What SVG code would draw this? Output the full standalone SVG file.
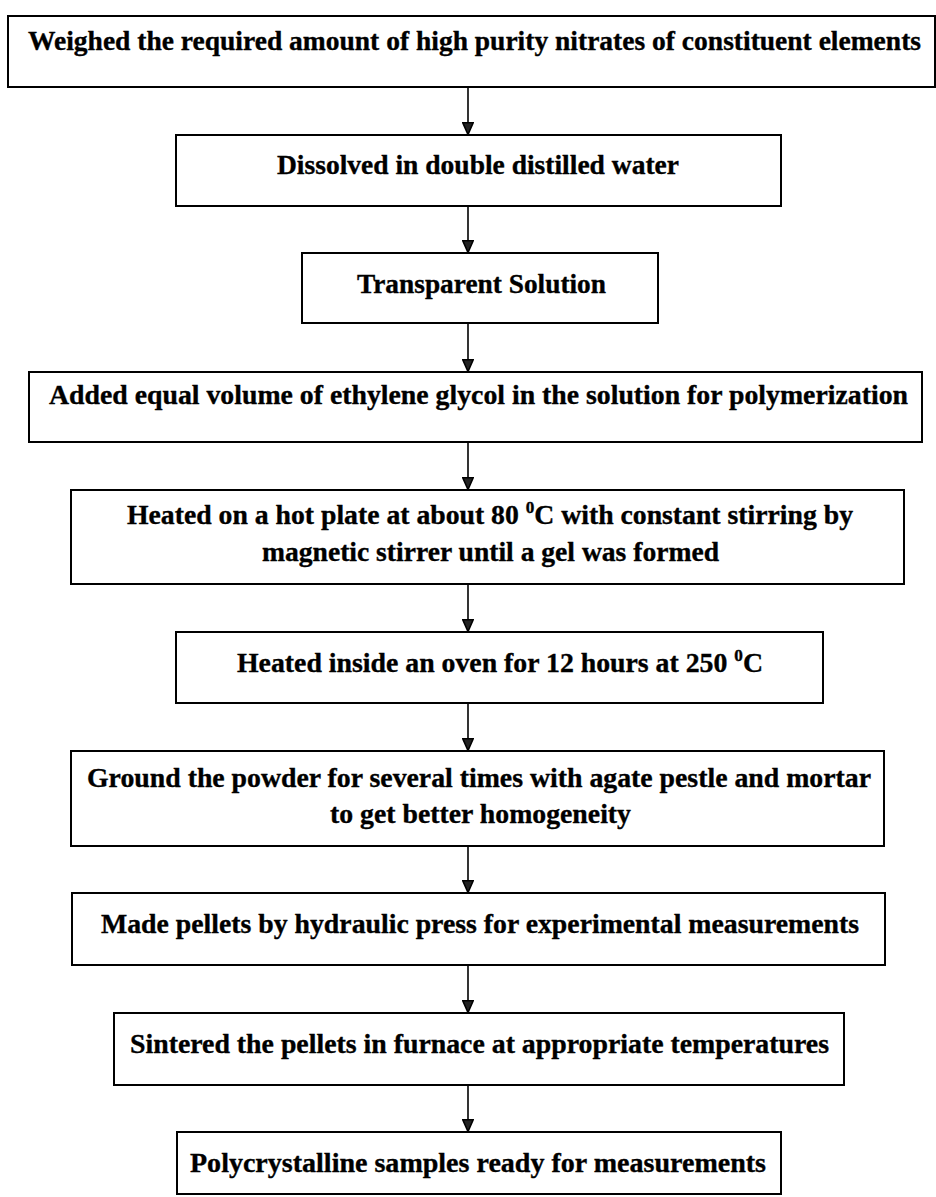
<svg xmlns="http://www.w3.org/2000/svg" width="936" height="1197" viewBox="0 0 936 1197">
<defs>
<style>
.box{fill:#fff;stroke:#000;stroke-width:2}
.t{font-family:"Liberation Serif","Times New Roman",serif;font-weight:bold;font-size:27.5px;fill:#000;stroke:#000;stroke-width:0.35}
.sup{font-size:17px}
.con{stroke:#000;stroke-width:1.6;fill:none}
</style>
<marker id="ah" markerUnits="userSpaceOnUse" viewBox="0 0 13 12" refX="13" refY="6" markerWidth="13" markerHeight="12" orient="auto">
<polygon points="0.8,0.8 12.5,6 0.8,11.2" fill="#222" stroke="#000" stroke-width="1.6"/>
</marker>
</defs>
<rect width="936" height="1197" fill="#fff"/>
<g id="connectors">
<line class="con" x1="468" y1="87" x2="468" y2="135" marker-end="url(#ah)"/>
<line class="con" x1="468" y1="206" x2="468" y2="253" marker-end="url(#ah)"/>
<line class="con" x1="468" y1="323" x2="468" y2="372" marker-end="url(#ah)"/>
<line class="con" x1="468" y1="442" x2="468" y2="490" marker-end="url(#ah)"/>
<line class="con" x1="468" y1="584" x2="468" y2="632" marker-end="url(#ah)"/>
<line class="con" x1="468" y1="703" x2="468" y2="751" marker-end="url(#ah)"/>
<line class="con" x1="468" y1="846" x2="468" y2="893" marker-end="url(#ah)"/>
<line class="con" x1="468" y1="965" x2="468" y2="1013" marker-end="url(#ah)"/>
<line class="con" x1="468" y1="1085" x2="468" y2="1132" marker-end="url(#ah)"/>
</g>
<g id="n1">
<rect class="box" x="8" y="16" width="927" height="71"/>
<text class="t" x="28" y="50" textLength="893" lengthAdjust="spacingAndGlyphs">Weighed the required amount of high purity nitrates of constituent elements</text>
</g>
<g id="n2">
<rect class="box" x="176" y="135" width="605" height="71"/>
<text class="t" x="277" y="174" textLength="402" lengthAdjust="spacingAndGlyphs">Dissolved in double distilled water</text>
</g>
<g id="n3">
<rect class="box" x="302" y="253" width="356" height="70"/>
<text class="t" x="357" y="293" textLength="249" lengthAdjust="spacingAndGlyphs">Transparent Solution</text>
</g>
<g id="n4">
<rect class="box" x="29" y="372" width="893" height="70"/>
<text class="t" x="49" y="404" textLength="859" lengthAdjust="spacingAndGlyphs">Added equal volume of ethylene glycol in the solution for polymerization</text>
</g>
<g id="n5">
<rect class="box" x="71" y="490" width="833" height="94"/>
<text class="t" x="127" y="524" textLength="726" lengthAdjust="spacingAndGlyphs">Heated on a hot plate at about 80 <tspan class="sup" dy="-11">0</tspan><tspan dy="11">C with constant stirring by</tspan></text>
<text class="t" x="262" y="561" textLength="457" lengthAdjust="spacingAndGlyphs">magnetic stirrer until a gel was formed</text>
</g>
<g id="n6">
<rect class="box" x="176" y="632" width="647" height="71"/>
<text class="t" x="237" y="672" textLength="526" lengthAdjust="spacingAndGlyphs">Heated inside an oven for 12 hours at 250 <tspan class="sup" dy="-11">0</tspan><tspan dy="11">C</tspan></text>
</g>
<g id="n7">
<rect class="box" x="71" y="751" width="813" height="95"/>
<text class="t" x="87" y="787" textLength="784" lengthAdjust="spacingAndGlyphs">Ground the powder for several times with agate pestle and mortar</text>
<text class="t" x="330" y="823" textLength="301" lengthAdjust="spacingAndGlyphs">to get better homogeneity</text>
</g>
<g id="n8">
<rect class="box" x="72" y="893" width="813" height="72"/>
<text class="t" x="101" y="933" textLength="758" lengthAdjust="spacingAndGlyphs">Made pellets by hydraulic press for experimental measurements</text>
</g>
<g id="n9">
<rect class="box" x="114" y="1013" width="730" height="72"/>
<text class="t" x="130" y="1053" textLength="699" lengthAdjust="spacingAndGlyphs">Sintered the pellets in furnace at appropriate temperatures</text>
</g>
<g id="n10">
<rect class="box" x="177" y="1132" width="604" height="62"/>
<text class="t" x="190" y="1172" textLength="576" lengthAdjust="spacingAndGlyphs">Polycrystalline samples ready for measurements</text>
</g>
</svg>
